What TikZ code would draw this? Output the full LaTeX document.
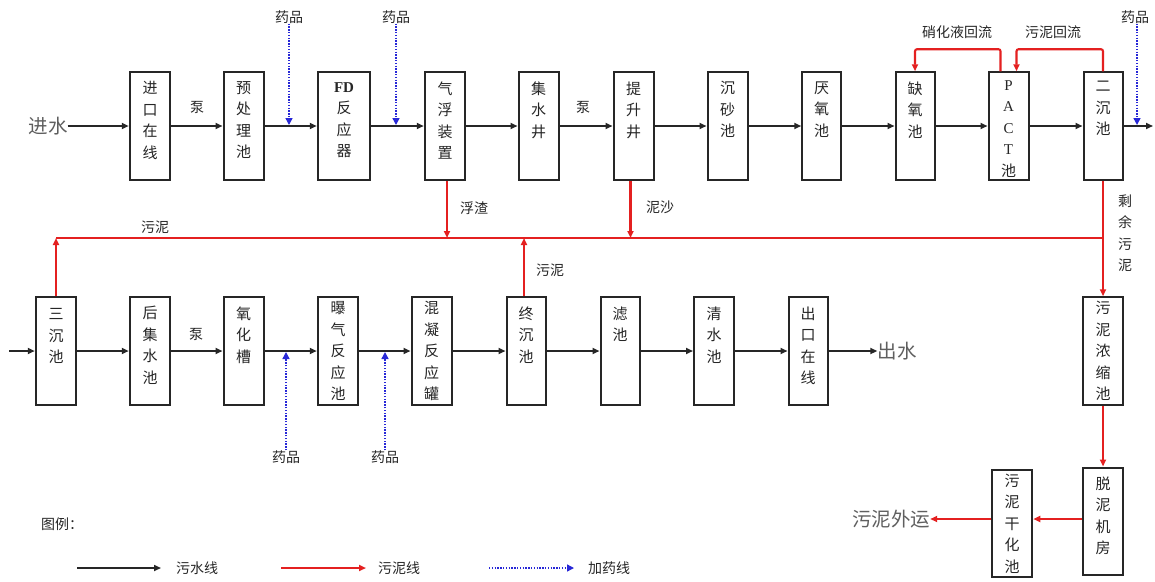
\documentclass[tikz,border=0pt]{standalone}
\usepackage{fontspec}
\newfontfamily\cjk{Noto Sans CJK SC}
\newfontfamily\lser{Liberation Serif}
\usetikzlibrary{arrows.meta}
\definecolor{sred}{RGB}{228,32,32}
\definecolor{dblue}{RGB}{40,40,215}
\definecolor{tgray}{RGB}{95,95,95}
\tikzset{
  boxst/.style={draw=black!85, line width=2pt, inner sep=0pt},
  boxtxt/.style={anchor=north, inner sep=0pt, align=center, font=\cjk\fontsize{15}{21.5}\selectfont, text=black!85},
  flow/.style={draw=black!85, line width=2.1pt, -{Triangle[length=7pt,width=6pt]}},
  sludge/.style={draw=sred, line width=2.1pt, -{Triangle[length=7pt,width=6pt]}},
  sludgeline/.style={draw=sred, line width=2.1pt},
  dose/.style={draw=dblue, line width=1.4pt, dash pattern=on 1.4pt off 1.4pt, -{Triangle[length=7pt,width=7pt]}, shorten >=1pt},
  lbl/.style={font=\cjk\fontsize{14}{16}\selectfont, inner sep=0pt, text=black!85},
  big/.style={font=\cjk\fontsize{19.5}{21}\selectfont, inner sep=0pt, text=tgray},
}
\newcommand{\pbox}[7]{%
  \node[boxst, minimum width=#4pt, minimum height=#5pt] (#1) at (#2,#3) {};
  \node[boxtxt] (#1t) at ([yshift=-#6pt]#1.north) {#7};}
\begin{document}
\begin{tikzpicture}[x=1pt,y=-1pt]
\useasboundingbox[fill=white] (0,0) rectangle (1155,581);
% ---------- top row ----------
\pbox{in1}{150}{126}{40.5}{107.5}{10}{进\\口\\在\\线}
\pbox{pre}{243.5}{126}{40}{107.5}{10}{预\\处\\理\\池}
\pbox{fd}{344}{126}{52.5}{107.5}{11}{{\lser\bfseries FD}\\反\\应\\器}
\pbox{air}{445}{126}{40.5}{107.5}{10}{气\\浮\\装\\置}
\pbox{col}{538.5}{126}{40}{107.5}{10}{集\\水\\井}
\pbox{lift}{633.5}{126}{40}{107.5}{10}{提\\升\\井}
\pbox{grit}{727.5}{126}{40}{107.5}{10}{沉\\砂\\池}
\pbox{ana}{821.5}{126}{38.5}{107.5}{10}{厌\\氧\\池}
\pbox{ano}{915}{126}{39}{107.5}{10}{缺\\氧\\池}
\pbox{pact}{1008.5}{126}{40}{107.5}{9}{\fontsize{15}{20}\selectfont{\lser P}\\{\lser A}\\{\lser C}\\{\lser T}\\池}
\pbox{sec}{1103}{126}{39}{107.5}{10}{二\\沉\\池}
% ---------- bottom row ----------
\pbox{s3}{56}{351}{40.5}{107.5}{12}{三\\沉\\池}
\pbox{pc}{150}{351}{40.5}{107.5}{10}{后\\集\\水\\池}
\pbox{ox}{243.5}{351}{40}{107.5}{10}{氧\\化\\槽}
\pbox{aer}{338}{351}{40.5}{107.5}{5}{曝\\气\\反\\应\\池}
\pbox{coag}{431.5}{351}{40}{107.5}{5}{混\\凝\\反\\应\\罐}
\pbox{fin}{526}{351}{39}{107.5}{10}{终\\沉\\池}
\pbox{filt}{620}{351}{39}{107.5}{10}{滤\\池}
\pbox{clr}{714}{351}{40}{107.5}{10}{清\\水\\池}
\pbox{out}{808}{351}{39}{107.5}{10}{出\\口\\在\\线}
\pbox{thick}{1103}{351}{40}{107.5}{5}{污\\泥\\浓\\缩\\池}
\pbox{dew}{1103}{521}{40}{107}{10}{脱\\泥\\机\\房}
\pbox{dry}{1012}{523}{40.5}{107}{5}{污\\泥\\干\\化\\池}
% ---------- texts ----------
\node[big] (inw) at (48,126) {进水};
\node[big] (outw) at (897,351) {出水};
\node[big] (sout) at (891,519) {污泥外运};
\node[lbl] (p1) at (197,107) {泵};
\node[lbl] (p2) at (583,107) {泵};
\node[lbl] (p3) at (196,334) {泵};
\node[lbl] (dg1) at (289,17) {药品};
\node[lbl] (dg2) at (396,17) {药品};
\node[lbl] (dg3) at (1135,17) {药品};
\node[lbl] (dg4) at (286,457) {药品};
\node[lbl] (dg5) at (385,457) {药品};
\node[lbl] (n1) at (957,32) {硝化液回流};
\node[lbl] (n2) at (1053,32) {污泥回流};
\node[lbl] (l1) at (155,227) {污泥};
\node[lbl] (l2) at (474,208) {浮渣};
\node[lbl] (l3) at (660,207) {泥沙};
\node[lbl] (l4) at (550,270) {污泥};
\node[lbl, align=center, font=\cjk\fontsize{14}{21.5}\selectfont] (l5) at (1125,233) {剩\\余\\污\\泥};
% ---------- water flow top ----------
\draw[flow] (inw) -- (in1);
\draw[flow] (in1) -- (pre);
\draw[flow] (pre) -- (fd);
\draw[flow] (fd) -- (air);
\draw[flow] (air) -- (col);
\draw[flow] (col) -- (lift);
\draw[flow] (lift) -- (grit);
\draw[flow] (grit) -- (ana);
\draw[flow] (ana) -- (ano);
\draw[flow] (ano) -- (pact);
\draw[flow] (pact) -- (sec);
\coordinate (tend) at (1153,126);
\draw[flow] (sec) -- (tend);
% ---------- water flow bottom ----------
\coordinate (bin) at (9,351);
\draw[flow] (bin) -- (s3);
\draw[flow] (s3) -- (pc);
\draw[flow] (pc) -- (ox);
\draw[flow] (ox) -- (aer);
\draw[flow] (aer) -- (coag);
\draw[flow] (coag) -- (fin);
\draw[flow] (fin) -- (filt);
\draw[flow] (filt) -- (clr);
\draw[flow] (clr) -- (out);
\draw[flow] (out) -- (outw);
% ---------- dosing ----------
\coordinate (j1) at (289,126);
\coordinate (j2) at (396,126);
\coordinate (j3) at (1137,126);
\coordinate (j4) at (286,351);
\coordinate (j5) at (385,351);
\draw[dose] (dg1) -- (j1);
\draw[dose] (dg2) -- (j2);
\draw[dose] ([xshift=2pt]dg3.south) -- (j3);
\draw[dose] (dg4) -- (j4);
\draw[dose] (dg5) -- (j5);
% ---------- recirculation ----------
\draw[sludge, rounded corners=2pt] ([xshift=-8pt]pact.north) -- ++(0,-22) -| (ano.north);
\draw[sludge, rounded corners=2pt] (sec.north) -- ++(0,-22) -| ([xshift=8pt]pact.north);
% ---------- sludge collection ----------
\coordinate (cL) at (56,238);
\coordinate (cR) at (1103,238);
\coordinate (cA) at (447,238);
\coordinate (cB) at (630.5,238);
\coordinate (cC) at (524,238);
\draw[sludgeline] (cL) -- (cR);
\draw[sludge] (s3) -- (cL);
\draw[sludge] ([xshift=2pt]air.south) -- (cA);
\draw[sludge] ([xshift=-3pt]lift.south) -- (cB);
\draw[sludge] ([xshift=-2pt]fin.north) -- (cC);
\draw[sludge] (sec) -- (thick);
\draw[sludge] (thick) -- (dew);
\draw[sludge] ([yshift=2pt]dew.west) -- ([yshift=2pt]dew.west -| dry.east);
\draw[sludge] ([yshift=4pt]dry.west) -- (sout);
% ---------- legend ----------
\node[lbl] (lg) at (62,524) {图例：};
\coordinate (a1) at (77,568); \coordinate (a2) at (161,568);
\coordinate (b1) at (281,568); \coordinate (b2) at (366,568);
\coordinate (c1) at (489,568); \coordinate (c2) at (574,568);
\draw[flow, line width=1.6pt] (a1) -- (a2);
\draw[sludge, line width=1.8pt] (b1) -- (b2);
\draw[dose, shorten >=0pt] (c1) -- (c2);
\node[lbl] (lt1) at (197,568) {污水线};
\node[lbl] (lt2) at (399,568) {污泥线};
\node[lbl] (lt3) at (609,568) {加药线};
\end{tikzpicture}
\end{document}
